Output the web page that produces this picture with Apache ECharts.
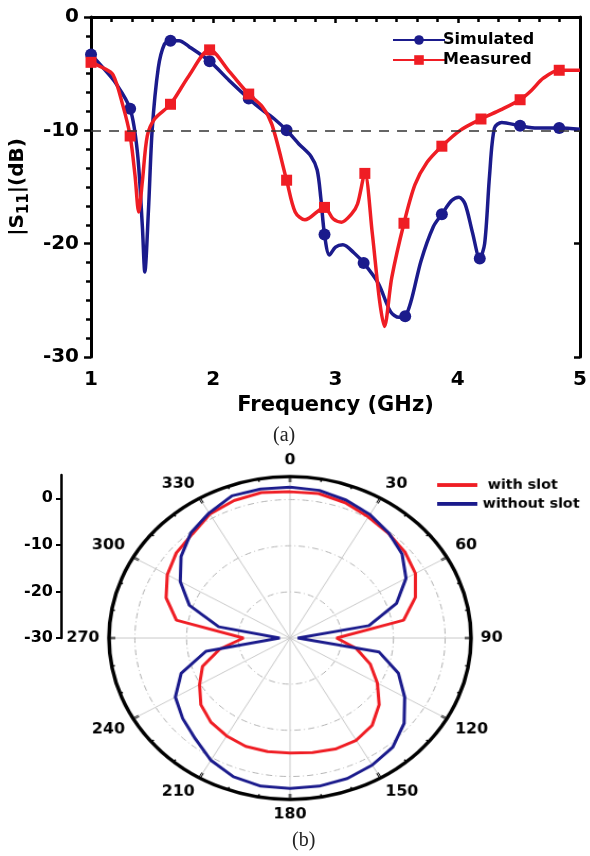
<!DOCTYPE html>
<html>
<head>
<meta charset="utf-8">
<script src="https://cdn.jsdelivr.net/npm/echarts@6/dist/echarts.min.js"></script>
<style>
  html, body { margin: 0; padding: 0; background: #fff; }
  #wrap { position: relative; width: 590px; height: 856px; overflow: hidden; }
  #chart { position: absolute; left: 0; top: 0; width: 590px; height: 856px; }
  /* the reference pattern is an ellipse: stretch the polar panel a little */
  #polar { position: absolute; left: 0; top: 438px; width: 590px; height: 400px;
    transform-origin: 290px 200px; transform: scale(1.0585, 0.9444); }
</style>
</head>
<body>
<div id="wrap">
  <div id="chart"></div>
  <div id="polar"></div>
</div>
<script>
// (a) return loss curves
const simFreq = [1.00, 1.10, 1.20, 1.32, 1.38, 1.42, 1.44, 1.47, 1.50, 1.55, 1.60, 1.65, 1.72, 1.80, 1.97,
  2.13, 2.29, 2.40, 2.50, 2.60, 2.70, 2.80, 2.85, 2.88, 2.91, 2.95, 3.00, 3.06, 3.15, 3.23,
  3.35, 3.45, 3.52, 3.57, 3.62, 3.70, 3.80, 3.87, 3.95, 4.01, 4.06, 4.12, 4.18, 4.22, 4.26,
  4.30, 4.36, 4.51, 4.65, 4.83, 5.00];
const simDb = [-3.3, -4.5, -5.8, -8.1, -12, -18.5, -22.5, -17, -10, -4.5, -2.4, -2.1, -2.1, -2.6, -3.9,
  -5.6, -7.2, -8.2, -9.0, -10.0, -11.2, -12.3, -13.5, -16, -19.2, -21.0, -20.3, -20.1, -20.8, -21.7,
  -23.5, -26.0, -26.5, -26.4, -25, -21.5, -18.5, -17.4, -16.2, -15.9, -16.5, -19, -21.3, -20, -14,
  -9.8, -9.3, -9.6, -9.8, -9.8, -9.9];
const simMarkerFreq = [1.00, 1.32, 1.65, 1.97, 2.29, 2.60, 2.91, 3.23, 3.57, 3.87, 4.18, 4.51, 4.83];

const measFreq = [1.00, 1.10, 1.18, 1.26, 1.32, 1.36, 1.39, 1.42, 1.46, 1.52, 1.65, 1.80, 1.97,
  2.13, 2.29, 2.40, 2.48, 2.60, 2.67, 2.75, 2.91, 2.98, 3.05, 3.13, 3.18, 3.24,
  3.30, 3.36, 3.40, 3.46, 3.56, 3.65, 3.75, 3.87, 4.02, 4.19, 4.35, 4.51, 4.60, 4.70, 4.83, 5.00];
const measDb = [-4.0, -4.5, -5.1, -7.8, -10.5, -14, -17.2, -14.5, -10.5, -9.0, -7.7, -5.2, -2.9,
  -4.8, -6.8, -7.9, -9.5, -14.4, -17.2, -17.9, -16.8, -17.8, -18.1, -17.4, -16.5, -13.8,
  -19, -25, -27.3, -23, -18.2, -14.8, -12.8, -11.4, -10.0, -9.0, -8.2, -7.3, -6.5, -5.4, -4.7, -4.7];
const measMarkerFreq = [1.00, 1.32, 1.65, 1.97, 2.29, 2.60, 2.91, 3.24, 3.56, 3.87, 4.19, 4.51, 4.83];

const thresholdDb = -10;
const freqTicks = [1, 2, 3, 4, 5];
const s11Ticks = [0, -10, -20, -30];

// (b) radiation pattern, every 10 degrees
const angles = [0, 10, 20, 30, 40, 50, 60, 70, 80, 90, 100, 110, 120, 130, 140, 150, 160, 170, 180,
  190, 200, 210, 220, 230, 240, 250, 260, 270, 280, 290, 300, 310, 320, 330, 340, 350, 360];
const withSlotDb = [1.7, 1.8, 1.2, 0.3, -0.4, -1.0, -2.0, -4.2, -7.7, -21, -17, -13.5, -10.5, -7.5, -5.3, -4.4, -4.4, -4.8, -5.1,
  -5.0, -5.0, -5.5, -6.2, -7.5, -9.8, -12, -16.2, -21, -7.7, -4.5, -2.6, -1.3, -0.6, 1.0, 1.7, 2.0, 1.7];
const withoutSlotDb = [2.7, 2.5, 1.8, 0.9, -0.3, -1.7, -4.1, -8.1, -14.5, -28.5, -12.5, -7.7, -4.4, -1.2, 0.9, 1.8, 2.4, 2.6, 2.6,
  2.6, 2.0, 0.6, -1.5, -2.9, -4.4, -7.6, -13.5, -28, -16, -9.3, -5.5, -2.5, -0.2, 1.3, 2.8, 2.8, 2.7];
const patternTicks = [0, -10, -20, -30];

const BLUE = '#1b1b8c';
const RED = '#ef1d24';
const FONT = 'DejaVu Sans';

const chart = echarts.init(document.getElementById('chart'));
const polarChart = echarts.init(document.getElementById('polar'));

function lineData(freq, db, marks, symbol) {
  return freq.map((f, i) => ({
    value: [f, db[i]],
    symbol: marks.includes(f) ? symbol : 'none'
  }));
}

const blackAxis = { lineStyle: { color: '#000', width: 3 } };
const boldLabel = { color: '#000', fontWeight: 'bold', fontFamily: FONT };

chart.setOption({
  animation: false,
  backgroundColor: '#fff',
  textStyle: { fontFamily: FONT },
  title: [
    { text: '(a)', left: 268, top: 421, textStyle: { fontFamily: 'Liberation Serif', fontWeight: 'normal', fontSize: 20, color: '#222' } },
    { text: '(b)', left: 287, top: 826, textStyle: { fontFamily: 'Liberation Serif', fontWeight: 'normal', fontSize: 20, color: '#222' } }
  ],
  legend: {
    data: ['Simulated', 'Measured'],
    left: 387, top: 27, orient: 'vertical',
    itemWidth: 52, itemHeight: 12, itemGap: 4,
    textStyle: { ...boldLabel, fontSize: 16, padding: [0, 0, 0, -7] }
  },
  grid: [
    { left: 85, top: 17, width: 495, height: 340 },
    { left: 61, top: 475, width: 1, height: 163 }
  ],
  xAxis: [
    {
      gridIndex: 0, type: 'value', min: 1, max: 5, interval: 1, position: 'bottom',
      axisLine: blackAxis,
      axisTick: { length: 6, lineStyle: { color: '#000', width: 2.5 } },
      minorTick: { show: true, splitNumber: 6, length: 5, lineStyle: { color: '#000', width: 2.5 } },
      splitLine: { show: false },
      axisLabel: { ...boldLabel, margin: 13, fontSize: 20, customValues: freqTicks },
      name: 'Frequency (GHz)', nameLocation: 'middle', nameGap: 38,
      nameTextStyle: { ...boldLabel, fontSize: 21 }
    },
    {
      gridIndex: 0, type: 'value', min: 1, max: 5, interval: 1, position: 'top',
      axisLine: blackAxis,
      axisTick: { inside: true, length: 6, lineStyle: { color: '#000', width: 2.5 } },
      axisLabel: { show: false }, splitLine: { show: false }
    },
    { gridIndex: 1, type: 'value', show: false, min: 0, max: 1 }
  ],
  yAxis: [
    {
      gridIndex: 0, type: 'value', min: -30, max: 0, interval: 10, position: 'left',
      axisLine: blackAxis,
      axisTick: { length: 7, lineStyle: { color: '#000', width: 2.5 } },
      minorTick: { show: true, splitNumber: 6, length: 5, lineStyle: { color: '#000', width: 2.5 } },
      splitLine: { show: false },
      axisLabel: { ...boldLabel, margin: 12, fontSize: 20, customValues: s11Ticks },
      name: '|S{s|11}|(dB)', nameLocation: 'middle', nameGap: 56,
      nameTextStyle: {
        ...boldLabel, fontSize: 20,
        rich: { s: { ...boldLabel, fontSize: 15, verticalAlign: 'bottom', padding: [0, 0, -4, 0] } }
      }
    },
    {
      gridIndex: 0, type: 'value', min: -30, max: 0, interval: 10, position: 'right',
      axisLine: blackAxis,
      axisTick: { inside: true, length: 6, lineStyle: { color: '#000', width: 2.5 } },
      axisLabel: { show: false }, splitLine: { show: false }
    },
    {
      gridIndex: 1, type: 'value', min: -30, max: 5, interval: 10,
      axisLine: { lineStyle: { color: '#000', width: 2.5 } },
      axisTick: { length: 5, lineStyle: { color: '#000', width: 2 }, customValues: patternTicks },
      splitLine: { show: false },
      axisLabel: { ...boldLabel, margin: 8, fontSize: 16, customValues: patternTicks }
    }
  ],
  series: [
    {
      name: 'Simulated', type: 'line', xAxisIndex: 0, yAxisIndex: 0,
      smooth: 0.3, symbol: 'circle', symbolSize: 12,
      color: BLUE, lineStyle: { width: 3.5, color: BLUE }, itemStyle: { color: BLUE },
      data: lineData(simFreq, simDb, simMarkerFreq, 'circle'),
      markLine: {
        silent: true, symbol: 'none', label: { show: false },
        lineStyle: { color: '#333', width: 1.5, type: [10, 8] },
        data: [{ yAxis: thresholdDb }]
      },
      z: 3
    },
    {
      name: 'Measured', type: 'line', xAxisIndex: 0, yAxisIndex: 0,
      smooth: 0.3, symbol: 'rect', symbolSize: 11,
      color: RED, lineStyle: { width: 3.5, color: RED }, itemStyle: { color: RED },
      data: lineData(measFreq, measDb, measMarkerFreq, 'rect'),
      z: 4
    }
  ]
});

polarChart.setOption({
  animation: false,
  textStyle: { fontFamily: FONT },
  legend: {
    data: ['with slot', 'without slot'],
    left: 424, top: 26, orient: 'vertical',
    icon: 'rect', itemWidth: 38, itemHeight: 4, itemGap: 6,
    formatter: name => (name === 'with slot' ? ' ' + name : name),
    textStyle: { ...boldLabel, fontSize: 13.5 }
  },
  polar: { center: [290, 200], radius: 171 },
  angleAxis: {
    type: 'value', min: 0, max: 360, interval: 30, startAngle: 90, clockwise: true,
    axisLine: { lineStyle: { color: '#000', width: 3.5 } },
    axisTick: { inside: true, length: 6, lineStyle: { color: '#000', width: 2.5 } },
    minorTick: { show: true, splitNumber: 3, length: 3, lineStyle: { color: '#000', width: 1.5 } },
    axisLabel: { ...boldLabel, margin: 9, fontSize: 15,
      formatter: v => (v === 360 ? '' : String(v)) },
    splitLine: { show: true, lineStyle: { color: '#c8c8c8', width: 1 } }
  },
  radiusAxis: {
    type: 'value', min: -30, max: 5, interval: 10,
    axisLine: { show: false }, axisTick: { show: false }, axisLabel: { show: false },
    splitLine: { show: true, lineStyle: { color: '#b0b0b0', width: 1, type: [6, 3, 1, 3] } }
  },
  series: [
    {
      name: 'with slot', type: 'line', coordinateSystem: 'polar',
      symbol: 'none', color: RED, lineStyle: { width: 3, color: RED },
      data: angles.map((a, i) => [withSlotDb[i], a])
    },
    {
      name: 'without slot', type: 'line', coordinateSystem: 'polar',
      symbol: 'none', color: BLUE, lineStyle: { width: 3, color: BLUE },
      data: angles.map((a, i) => [withoutSlotDb[i], a])
    }
  ]
});
</script>
</body>
</html>
